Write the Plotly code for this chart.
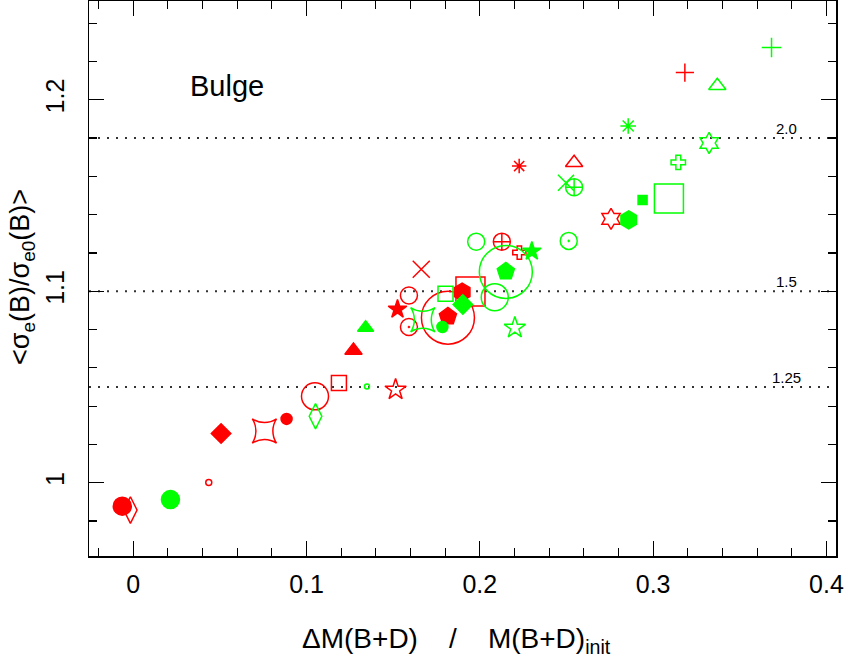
import plotly.graph_objects as go

# ---- data ----
red_x = [-0.0063, -0.0016, 0.0436, 0.0507, 0.0757, 0.0885, 0.1049, 0.1187, 0.1271,
         0.1514, 0.1525, 0.1662, 0.1591, 0.1591, 0.1816, 0.1816, 0.1898, 0.1946,
         0.2127, 0.2228, 0.2227, 0.2544, 0.2757, 0.3183]
red_y = [0.9877, 0.9857, 1.0001, 1.0257, 1.0270, 1.0333, 1.0451, 1.0520, 1.0691,
         1.0486, 1.0906, 1.1115, 1.0978, 1.0813, 1.0862, 1.0868, 1.0995, 1.0999,
         1.1259, 1.1202, 1.1654, 1.1671, 1.1378, 1.2142]
red_sym = ["circle", "diamond-tall-open", "circle-open", "diamond", "star-square-open",
           "circle", "circle-open", "square-open", "triangle-up", "star-open", "star",
           "x-thin-open", "circle-open", "circle-open-dot", "circle-open", "pentagon",
           "hexagon", "square-open", "circle-cross-open", "cross-open", "asterisk-open",
           "triangle-up-open", "hexagram-open", "cross-thin-open"]
red_size = [18, 19, 6, 15, 22, 11, 27, 15, 15, 16, 14, 17, 17, 17, 53, 18, 18, 29,
            17, 11, 12, 15, 16, 13]

green_x = [0.0215, 0.1052, 0.1349, 0.1341, 0.1671, 0.1784, 0.1802, 0.1902, 0.2086,
           0.2150, 0.2150, 0.1979, 0.2300, 0.2202, 0.2497, 0.2544, 0.2513, 0.2859,
           0.2939, 0.3091, 0.3145, 0.3683, 0.3370, 0.2856, 0.3323]
green_y = [0.9912, 1.0347, 1.0503, 1.0809, 1.0851, 1.0813, 1.0987, 1.0931, 1.0969,
           1.1101, 1.1103, 1.1259, 1.1209, 1.0809, 1.1567, 1.1543, 1.1263, 1.1373,
           1.1477, 1.1485, 1.1673, 1.2273, 1.2073, 1.1863, 1.1774]
green_sym = ["circle", "diamond-tall-open", "circle-open", "triangle-up", "star-square-open",
             "circle", "square-open", "diamond", "circle-open", "circle-open", "pentagon",
             "circle-open", "star", "star-open", "x-thin-open", "circle-cross-open",
             "circle-open-dot", "hexagon", "square", "square-open", "cross-open",
             "cross-thin-open", "triangle-up-open", "asterisk-open", "hexagram-open"]
green_size = [18, 18, 5, 14, 22, 11, 15, 15, 27, 53, 18, 17, 14, 16, 16, 17, 17, 18,
              9, 29, 12, 14, 15, 13, 16]

ref_levels = [1.18, 1.10, 1.05]
ref_labels = ["2.0", "1.5", "1.25"]

x_ticks = [0, 0.1, 0.2, 0.3, 0.4]
y_ticks = [1.0, 1.1, 1.2]

RED = "#ff0000"
GREEN = "#00ff00"
FONT = "Liberation Sans"

fig = go.Figure()
for xs, ys, syms, sizes, col in [(red_x, red_y, red_sym, red_size, RED),
                                 (green_x, green_y, green_sym, green_size, GREEN)]:
    fig.add_trace(go.Scatter(
        x=xs, y=ys, mode="markers", showlegend=False, hoverinfo="skip",
        marker=dict(symbol=syms, size=sizes, color=col, opacity=1,
                    line=dict(color=col, width=1.5)),
    ))

for lev, lab in zip(ref_levels, ref_labels):
    fig.add_shape(type="line", xref="paper", x0=0, x1=1, yref="y", y0=lev, y1=lev,
                  line=dict(color="#333333", width=2, dash="2px,7px"), layer="below")
    fig.add_annotation(x=0.377, y=lev, xref="x", yref="y", text=lab, showarrow=False,
                       xanchor="center", yanchor="bottom", yshift=-1,
                       font=dict(family=FONT, size=15, color="black"))

fig.add_annotation(x=0.0544, y=1.2073, xref="x", yref="y", text="Bulge", showarrow=False,
                   xanchor="center", yanchor="middle",
                   font=dict(family=FONT, size=29, color="black"))

fig.add_annotation(x=-0.0895, y=0.503, xref="paper", yref="paper",
                   text="&lt;σ<sub>e</sub>(B)/σ<sub>e0</sub>(B)&gt;", textangle=-90,
                   xanchor="center", yanchor="middle",
                   showarrow=False, font=dict(family=FONT, size=27, color="black"))
fig.add_annotation(x=0.492, y=-0.152, xref="paper", yref="paper",
                   text="ΔM(B+D)&nbsp;&nbsp;&nbsp;&nbsp;/&nbsp;&nbsp;&nbsp;&nbsp;M(B+D)<sub>init</sub>",
                   xanchor="center", yanchor="middle",
                   showarrow=False, font=dict(family=FONT, size=28, color="black"))

axis_common = dict(showline=True, linecolor="black", linewidth=1.5, mirror="ticks",
                   ticks="inside", ticklen=15, tickwidth=1.2, tickcolor="black",
                   showgrid=False, zeroline=False, automargin=False,
                   tickfont=dict(family=FONT, size=25, color="black"))
fig.update_xaxes(range=[-0.0255, 0.4055], tickvals=x_ticks,
                 ticktext=["0", "0.1", "0.2", "0.3", "0.4"],
                 minor=dict(dtick=0.02, tick0=0, ticks="inside", ticklen=8,
                            tickwidth=1.2, tickcolor="black"),
                 ticklabelstandoff=5, **axis_common)
fig.update_yaxes(range=[0.9617, 1.2516], tickvals=y_ticks,
                 ticktext=["1", "1.1", "1.2"], tickangle=-90,
                 minor=dict(dtick=0.02, tick0=0, ticks="inside", ticklen=8,
                            tickwidth=1.2, tickcolor="black"),
                 ticklabelstandoff=14, **axis_common)

fig.update_layout(width=849, height=664, plot_bgcolor="white", paper_bgcolor="white",
                  margin=dict(l=89, r=13, t=1, b=108), hovermode=False)

fig.write_html("out.html", config={"displayModeBar": False, "staticPlot": True},
               post_script="document.body.style.margin='0';document.body.style.overflow='hidden';")
